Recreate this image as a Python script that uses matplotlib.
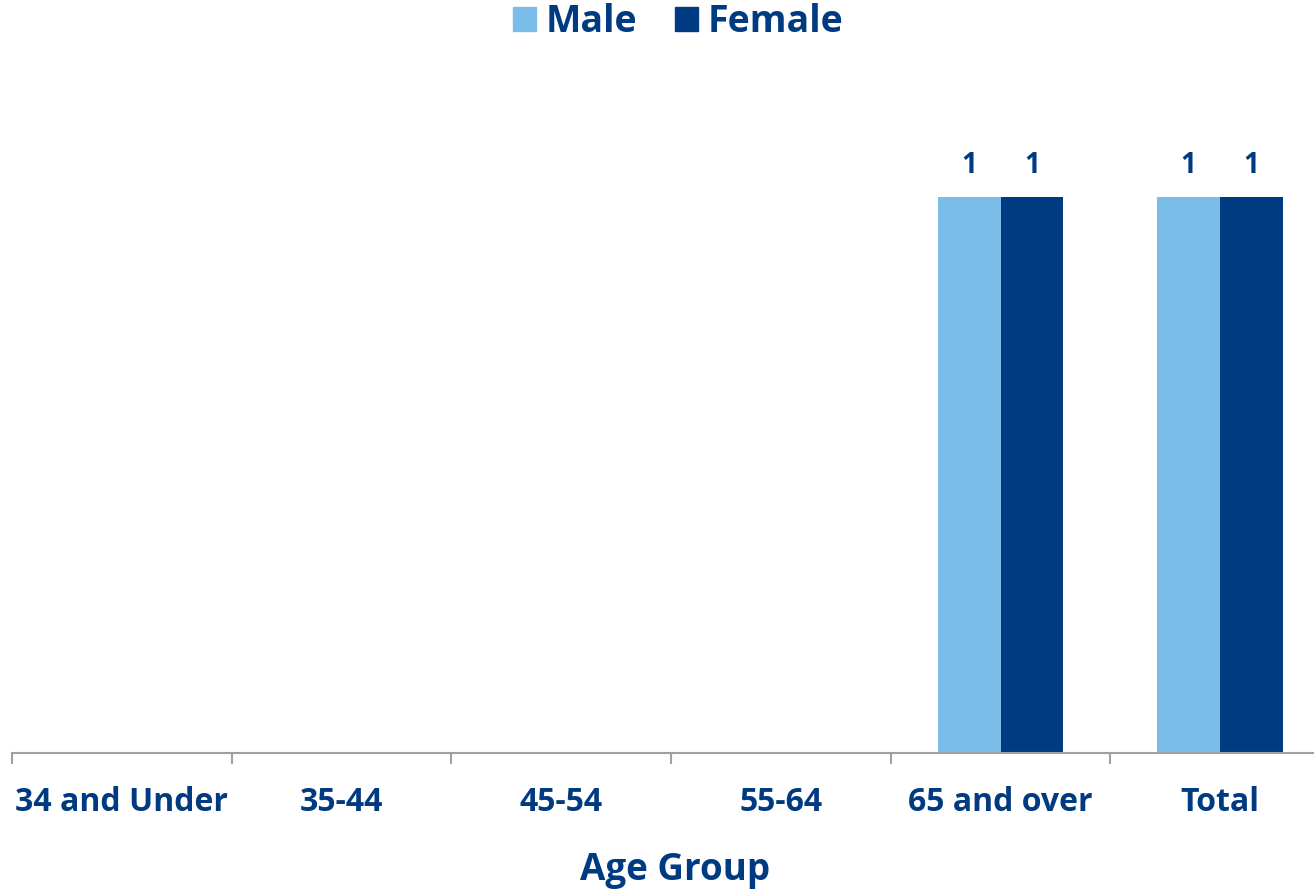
import matplotlib
matplotlib.use("Agg")
import matplotlib.pyplot as plt
import numpy as np
from matplotlib.patches import Patch

categories = ["34 and Under", "35-44", "45-54", "55-64", "65 and over", "Total"]
male = [0, 0, 0, 0, 1, 1]
female = [0, 0, 0, 0, 1, 1]

MALE_C = "#7ABDE8"
FEMALE_C = "#003A80"
TEXT_C = "#003A80"
FONT = "Open Sans"

W, H = 1314, 890
fig = plt.figure(figsize=(W / 100, H / 100), dpi=100)
x0, x1 = 12, 1330
ybot, ytop = 753, 80
ax = fig.add_axes([x0 / W, 1 - ybot / H, (x1 - x0) / W, (ybot - ytop) / H])
ax.set_xlim(0, len(categories))
ax.set_ylim(0, (ybot - ytop) / (ybot - 197))

x = np.arange(len(categories)) + 0.5
bw = 63 / 219.7
bm = ax.bar(x - bw / 2, male, bw, color=MALE_C, label="Male")
bf = ax.bar(x + bw / 2, female, bw, color=FEMALE_C, label="Female")

for bars, vals in ((bm, male), (bf, female)):
    for b, v in zip(bars, vals):
        if v:
            ax.annotate(f"{v}", (b.get_x() + b.get_width() / 2, v), xytext=(0, 12),
                        textcoords="offset points", ha="center", va="bottom",
                        fontsize=20, fontweight="bold", color=TEXT_C, family=FONT)

for s in ("top", "right", "left"):
    ax.spines[s].set_visible(False)
ax.spines["bottom"].set_color("#A0A0A0")
ax.spines["bottom"].set_linewidth(1.5)
ax.set_yticks([])
ax.set_xticks(np.arange(len(categories) + 1))
ax.set_xticklabels([])
ax.tick_params(axis="x", length=8, width=1.5, color="#A0A0A0")
ax.set_xticks(x, minor=True)
ax.set_xticklabels(categories, minor=True, fontsize=23, fontweight="bold", color=TEXT_C, family=FONT)
ax.tick_params(axis="x", which="minor", length=0, pad=24)

fig.text(675 / W, 1 - 870 / H, "Age Group", ha="center", va="center",
         fontsize=26.5, fontweight="bold", color=TEXT_C, family=FONT)

leg = fig.legend(handles=[Patch(color=MALE_C, label="Male"), Patch(color=FEMALE_C, label="Female")],
                 loc="center", bbox_to_anchor=(678 / W, 1 - 22 / H), ncol=2, frameon=False,
                 prop={"family": FONT, "weight": "bold", "size": 27},
                 handlelength=0.62, handleheight=0.62, handletextpad=0.25, columnspacing=1.0)
for t in leg.get_texts():
    t.set_color(TEXT_C)

fig.savefig("out.png", dpi=100)
